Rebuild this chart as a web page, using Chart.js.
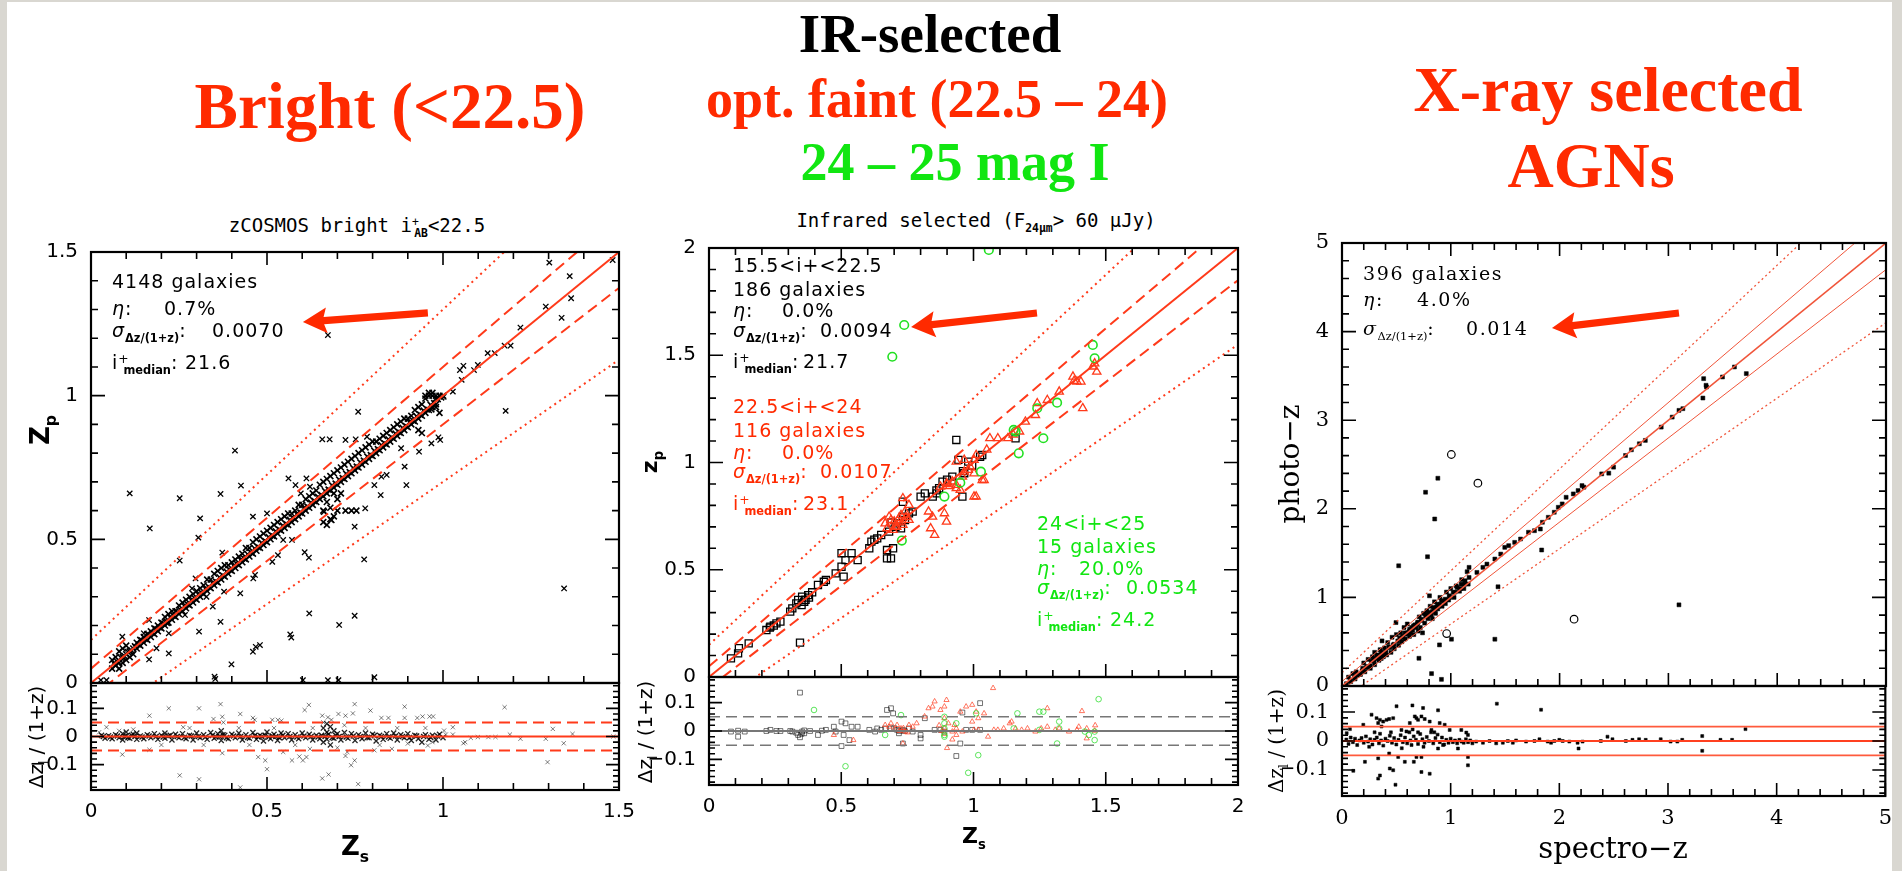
<!DOCTYPE html>
<html><head><meta charset="utf-8">
<script src="https://cdn.jsdelivr.net/npm/chart.js@4/dist/chart.umd.min.js"></script>
<style>
html,body{margin:0;padding:0;background:#fff}
#stage{position:relative;width:1902px;height:871px;overflow:hidden;background:#fff}
.gb{position:absolute;background:#d9d7d1}
.t{position:absolute;white-space:nowrap;line-height:1;color:#000}
.big{font-family:'Liberation Serif';font-weight:bold;transform:translateX(-50%)}
.ann{font-family:'DejaVu Sans';font-size:19px;letter-spacing:1px}
.ser{font-family:'DejaVu Serif';font-size:19px;letter-spacing:1.6px}
.mono{font-family:'DejaVu Sans Mono';font-size:19px;transform:translateX(-50%)}
.t sub,.t sup{line-height:0;letter-spacing:0}
.t sub{font-size:0.6em;vertical-align:-0.45em;font-weight:bold}
.t sup{font-size:0.65em;vertical-align:0.5em}
.g{font-style:italic}
.rot{transform:translate(-50%,-50%) rotate(-90deg)}
.ctr{transform:translate(-50%,-50%)}
.red{color:#ff2a00}.grn{color:#11e611}
</style></head><body>
<div id="stage">
<div class="gb" style="left:0;top:0;width:7px;height:871px"></div>
<div class="gb" style="left:0;top:0;width:1902px;height:2px"></div>
<div class="gb" style="left:1892px;top:0;width:10px;height:871px"></div>

<div class="t big red" style="left:390px;top:74px;font-size:65px">Bright (&lt;22.5)</div>
<div class="t big" style="left:930px;top:6px;font-size:55px">IR-selected</div>
<div class="t big red" style="left:937px;top:72px;font-size:54px">opt. faint (22.5 – 24)</div>
<div class="t big grn" style="left:955px;top:135px;font-size:54px">24 – 25 mag I</div>
<div class="t big red" style="left:1608px;top:58px;font-size:64px">X-ray selected</div>
<div class="t big red" style="left:1591px;top:134px;font-size:64px">AGNs</div>

<div class="t mono" style="left:357px;top:216px">zCOSMOS bright i<sup style="font-size:0.6em">+</sup><sub style="margin-left:-0.4em">AB</sub>&lt;22.5</div>
<div class="t mono" style="left:976px;top:211px">Infrared selected (F<sub>24μm</sub>&gt; 60 μJy)</div>
</div>
<script>
// ---------------- data ----------------
const p1XTicks=[0,0.5,1,1.5], p1YTicks=[0,0.5,1,1.5];
const p2XTicks=[0,0.5,1,1.5,2], p2YTicks=[0,0.5,1,1.5,2];
const p3XTicks=[0,1,2,3,4,5], p3YTicks=[0,1,2,3,4,5];
const resTicks=[-0.1,0,0.1];

// reference lines (zs, zp) : y=x, ±0.05(1+z), ±0.15(1+z)
const p1Diag=[[0,0],[1.5,1.5]], p1DashUp=[[0,0.05],[1.5,1.625]], p1DashLo=[[0,-0.05],[1.5,1.375]], p1DotUp=[[0,0.15],[1.5,1.875]], p1DotLo=[[0,-0.15],[1.5,1.125]];
const p2Diag=[[0,0],[2,2]], p2DashUp=[[0,0.05],[2,2.15]], p2DashLo=[[0,-0.05],[2,1.85]], p2DotUp=[[0,0.15],[2,2.45]], p2DotLo=[[0,-0.15],[2,1.55]];
const p3Diag=[[0,0],[5,5]], p3InUp=[[0,0.05],[5,5.3]], p3InLo=[[0,-0.05],[5,4.7]], p3DotUp=[[0,0.15],[5,5.9]], p3DotLo=[[0,-0.15],[5,4.1]];
const p1ResZero=[[0,0],[1.5,0]], p1ResUp=[[0,0.05],[1.5,0.05]], p1ResLo=[[0,-0.05],[1.5,-0.05]];
const p2ResZero=[[0,0],[2,0]], p2ResUp=[[0,0.05],[2,0.05]], p2ResLo=[[0,-0.05],[2,-0.05]];
const p3ResZero=[[0,0],[5,0]], p3ResUp=[[0,0.05],[5,0.05]], p3ResLo=[[0,-0.05],[5,-0.05]];

// panel 1 : zCOSMOS bright
const brightBand=[[0.06,0.05],[0.06,0.08],[0.07,0.06],[0.07,0.09],[0.08,0.05],[0.08,0.11],[0.08,0.07],[0.09,0.12],[0.09,0.09],[0.09,0.07],[0.10,0.13],[0.10,0.10],[0.10,0.08],[0.11,0.11],[0.11,0.09],[0.12,0.12],[0.12,0.10],[0.13,0.14],[0.13,0.12],[0.14,0.15],[0.14,0.13],[0.15,0.16],[0.15,0.14],[0.16,0.17],[0.16,0.15],[0.17,0.18],[0.17,0.16],[0.18,0.19],[0.18,0.17],[0.19,0.20],[0.19,0.18],[0.20,0.21],[0.20,0.19],[0.21,0.23],[0.21,0.20],[0.22,0.24],[0.22,0.21],[0.23,0.25],[0.23,0.22],[0.24,0.25],[0.24,0.23],[0.25,0.27],[0.25,0.24],[0.26,0.28],[0.26,0.25],[0.27,0.29],[0.27,0.26],[0.28,0.30],[0.28,0.27],[0.29,0.31],[0.29,0.28],[0.30,0.32],[0.30,0.29],[0.31,0.33],[0.31,0.30],[0.32,0.34],[0.32,0.31],[0.33,0.36],[0.33,0.32],[0.34,0.36],[0.34,0.33],[0.35,0.38],[0.35,0.34],[0.36,0.39],[0.36,0.35],[0.37,0.40],[0.37,0.36],[0.38,0.41],[0.38,0.37],[0.39,0.41],[0.39,0.38],[0.40,0.42],[0.40,0.39],[0.41,0.43],[0.41,0.40],[0.42,0.44],[0.42,0.41],[0.43,0.45],[0.43,0.42],[0.44,0.47],[0.44,0.43],[0.45,0.47],[0.45,0.44],[0.46,0.49],[0.46,0.45],[0.47,0.50],[0.47,0.46],[0.48,0.51],[0.48,0.47],[0.49,0.52],[0.49,0.48],[0.50,0.53],[0.50,0.49],[0.51,0.54],[0.51,0.50],[0.52,0.55],[0.52,0.51],[0.53,0.56],[0.53,0.52],[0.54,0.57],[0.54,0.53],[0.55,0.58],[0.55,0.54],[0.56,0.59],[0.56,0.55],[0.57,0.59],[0.57,0.56],[0.58,0.60],[0.58,0.57],[0.59,0.62],[0.59,0.58],[0.60,0.62],[0.60,0.59],[0.61,0.64],[0.61,0.60],[0.62,0.65],[0.62,0.61],[0.63,0.66],[0.63,0.62],[0.64,0.67],[0.64,0.63],[0.65,0.69],[0.65,0.64],[0.66,0.70],[0.66,0.65],[0.67,0.71],[0.67,0.66],[0.68,0.72],[0.68,0.67],[0.69,0.73],[0.69,0.68],[0.70,0.74],[0.70,0.69],[0.71,0.75],[0.71,0.70],[0.72,0.76],[0.72,0.71],[0.73,0.77],[0.73,0.72],[0.74,0.78],[0.74,0.73],[0.75,0.79],[0.75,0.74],[0.76,0.80],[0.76,0.75],[0.77,0.81],[0.77,0.76],[0.78,0.82],[0.78,0.77],[0.79,0.83],[0.79,0.78],[0.80,0.84],[0.80,0.79],[0.81,0.84],[0.81,0.80],[0.82,0.85],[0.82,0.81],[0.83,0.86],[0.83,0.82],[0.84,0.87],[0.84,0.83],[0.85,0.88],[0.85,0.84],[0.86,0.89],[0.86,0.85],[0.87,0.90],[0.87,0.86],[0.88,0.91],[0.88,0.87],[0.89,0.92],[0.89,0.88],[0.90,0.92],[0.90,0.89],[0.91,0.93],[0.91,0.90],[0.92,0.95],[0.92,0.91],[0.93,0.96],[0.93,0.92],[0.94,0.97],[0.94,0.93],[0.95,0.99],[0.95,0.94],[0.96,1.00],[0.96,0.95],[0.97,1.00],[0.97,0.96],[0.98,0.99],[0.98,0.97],[0.99,1.00],[1.00,1.00],[0.66,0.56],[0.67,0.55],[0.68,0.57],[0.66,0.60],[0.69,0.58],[0.70,0.60],[0.68,0.61],[0.67,0.63],[0.70,0.64],[0.69,0.66],[0.71,0.66],[0.662,0.596],[0.683,0.567],[0.723,0.6],[0.74,0.6],[0.754,0.6],[0.93,0.88],[0.94,0.87],[0.967,0.952],[0.99,0.94],[0.98,0.96],[0.95,1.0],[0.96,1.01],[0.97,1.01],[0.98,1.0]];
const brightCore=[[0.065,0.068],[0.075,0.073],[0.085,0.088],[0.095,0.094],[0.105,0.108],[0.115,0.113],[0.125,0.128],[0.135,0.134],[0.145,0.148],[0.155,0.153],[0.165,0.168],[0.175,0.174],[0.185,0.188],[0.195,0.193],[0.205,0.208],[0.215,0.214],[0.225,0.228],[0.235,0.233],[0.245,0.248],[0.255,0.254],[0.265,0.268],[0.275,0.273],[0.285,0.288],[0.295,0.294],[0.305,0.308],[0.315,0.313],[0.325,0.328],[0.335,0.334],[0.345,0.348],[0.355,0.353],[0.365,0.368],[0.375,0.374],[0.385,0.388],[0.395,0.393],[0.405,0.408],[0.415,0.414],[0.425,0.428],[0.435,0.433],[0.445,0.448],[0.455,0.454],[0.465,0.468],[0.475,0.473],[0.485,0.488],[0.495,0.494],[0.505,0.508],[0.515,0.513],[0.525,0.528],[0.535,0.534],[0.545,0.548],[0.555,0.553],[0.565,0.568],[0.575,0.574],[0.585,0.588],[0.595,0.593],[0.605,0.608],[0.615,0.614],[0.625,0.628],[0.635,0.633],[0.645,0.648],[0.655,0.654],[0.665,0.668],[0.675,0.673],[0.685,0.688],[0.695,0.694],[0.705,0.708],[0.715,0.713],[0.725,0.728],[0.735,0.734],[0.745,0.748],[0.755,0.753],[0.765,0.768],[0.775,0.774],[0.785,0.788],[0.795,0.793],[0.805,0.808],[0.815,0.814],[0.825,0.828],[0.835,0.833],[0.845,0.848],[0.855,0.854],[0.865,0.868],[0.875,0.873],[0.885,0.888],[0.895,0.894],[0.905,0.908],[0.915,0.913],[0.925,0.928],[0.935,0.934],[0.945,0.948],[0.955,0.953],[0.965,0.968],[0.975,0.974],[0.985,0.988],[0.995,0.994]];
const brightOut=[[0.673,1.211],[1.302,1.463],[1.36,1.416],[1.364,1.339],[1.292,1.31],[1.337,1.271],[1.22,1.237],[1.482,1.472],[1.175,1.174],[1.192,1.174],[1.147,1.148],[1.127,1.148],[1.058,1.104],[1.048,1.089],[1.099,1.107],[1.088,1.089],[1.053,1.055],[1.028,1.014],[1.002,0.996],[1.178,0.947],[0.759,0.944],[0.409,0.809],[0.657,0.848],[0.678,0.848],[0.723,0.846],[0.752,0.848],[0.784,0.857],[0.932,0.805],[0.881,0.817],[0.891,0.753],[0.896,0.689],[0.825,0.718],[0.84,0.724],[0.805,0.689],[0.823,0.654],[0.967,0.834],[0.987,0.855],[0.992,0.846],[0.11,0.66],[0.252,0.643],[0.368,0.658],[0.426,0.687],[0.31,0.573],[0.167,0.538],[0.305,0.506],[0.252,0.426],[0.373,0.454],[0.46,0.579],[0.5,0.59],[0.561,0.712],[0.581,0.689],[0.612,0.712],[0.596,0.66],[0.622,0.683],[0.607,0.455],[0.619,0.436],[0.515,0.422],[0.531,0.445],[0.546,0.498],[0.571,0.498],[0.749,0.544],[0.779,0.608],[0.776,0.43],[0.466,0.376],[0.461,0.364],[0.424,0.312],[0.378,0.318],[0.346,0.266],[0.307,0.179],[0.368,0.213],[0.328,0.3],[0.297,0.364],[0.287,0.329],[0.267,0.237],[0.216,0.208],[0.221,0.173],[0.165,0.082],[0.186,0.121],[0.089,0.161],[0.165,0.219],[0.125,0.126],[0.15,0.173],[0.62,0.242],[0.749,0.234],[0.705,0.202],[0.566,0.169],[0.569,0.158],[0.468,0.126],[0.48,0.132],[0.46,0.109],[0.399,0.065],[0.351,0.022],[0.353,0.014],[0.602,0.01],[0.673,0.01],[0.703,0.01],[0.805,0.02],[1.344,0.329],[0.221,0.103],[0.028,0.01],[0.044,0.01]];
const brightResBand=[[0.03,0.004],[0.04,-0.006],[0.05,0.003],[0.06,-0.008],[0.07,0.006],[0.08,-0.004],[0.09,0.01],[0.09,-0.012],[0.10,0.002],[0.10,0.016],[0.11,-0.006],[0.12,0.008],[0.13,-0.01],[0.13,0.012],[0.14,0.002],[0.15,-0.008],[0.16,0.006],[0.17,-0.004],[0.18,0.01],[0.19,-0.01],[0.2,0.004],[0.21,-0.006],[0.21,0.012],[0.22,0.002],[0.23,-0.012],[0.24,0.008],[0.25,-0.004],[0.26,0.01],[0.27,-0.008],[0.28,0.004],[0.29,-0.012],[0.3,0.012],[0.31,-0.004],[0.32,0.006],[0.33,-0.01],[0.34,0.014],[0.35,-0.006],[0.36,0.01],[0.37,-0.014],[0.37,0.02],[0.38,0.004],[0.39,-0.008],[0.4,0.008],[0.41,-0.004],[0.42,0.012],[0.43,-0.012],[0.44,0.006],[0.45,-0.006],[0.46,0.014],[0.47,-0.01],[0.48,0.004],[0.49,-0.016],[0.5,0.016],[0.51,-0.008],[0.52,0.008],[0.53,-0.014],[0.54,0.012],[0.55,-0.004],[0.56,0.01],[0.57,-0.012],[0.58,0.006],[0.59,-0.008],[0.6,0.012],[0.61,-0.004],[0.62,0.008],[0.63,-0.012],[0.64,0.004],[0.65,-0.008],[0.66,0.03],[0.66,-0.02],[0.67,0.045],[0.67,0.015],[0.67,-0.01],[0.68,0.035],[0.68,-0.03],[0.69,0.02],[0.69,-0.006],[0.7,0.01],[0.71,-0.012],[0.72,0.014],[0.73,-0.006],[0.74,0.01],[0.75,-0.014],[0.76,0.006],[0.77,-0.008],[0.78,0.012],[0.79,-0.004],[0.8,0.008],[0.81,-0.016],[0.82,0.004],[0.83,-0.01],[0.84,0.01],[0.85,-0.006],[0.86,0.012],[0.87,-0.012],[0.88,0.006],[0.89,-0.004],[0.9,0.01],[0.91,-0.014],[0.92,0.004],[0.93,-0.008],[0.94,-0.02],[0.95,0.006],[0.96,-0.01],[0.97,0.004],[0.98,-0.012],[0.99,0.008],[1.0,-0.004]];
const brightResCore=[[0.035,0.0],[0.055,-0.002],[0.075,0.002],[0.095,0.0],[0.105,-0.004],[0.115,0.004],[0.125,0.0],[0.145,-0.002],[0.165,0.002],[0.185,0.0],[0.205,-0.002],[0.225,0.004],[0.245,0.0],[0.265,-0.003],[0.285,0.002],[0.305,0.0],[0.325,-0.002],[0.345,0.004],[0.355,-0.002],[0.365,0.0],[0.375,0.006],[0.385,-0.004],[0.405,0.002],[0.425,0.0],[0.445,-0.003],[0.465,0.003],[0.475,-0.002],[0.485,0.0],[0.495,0.004],[0.505,-0.002],[0.515,0.002],[0.525,0.0],[0.535,-0.004],[0.545,0.004],[0.565,0.0],[0.585,-0.002],[0.605,0.002],[0.625,0.0],[0.645,-0.002],[0.655,0.004],[0.665,0.0],[0.675,0.008],[0.685,-0.004],[0.695,0.004],[0.705,0.0],[0.725,-0.002],[0.745,0.002],[0.765,0.0],[0.785,-0.003],[0.805,0.003],[0.825,0.0],[0.845,-0.002],[0.865,0.002],[0.885,0.0],[0.905,-0.004],[0.925,0.002],[0.945,0.0],[0.965,-0.003],[0.985,0.002]];
const brightResOut=[[0.166,0.074],[0.221,0.1],[0.307,0.1],[0.262,0.033],[0.348,0.062],[0.373,0.07],[0.376,0.05],[0.368,0.115],[0.424,0.08],[0.46,0.066],[0.465,0.059],[0.515,0.059],[0.531,0.059],[0.541,0.056],[0.607,0.094],[0.619,0.112],[0.657,0.074],[0.673,0.068],[0.683,0.059],[0.703,0.08],[0.723,0.074],[0.744,0.082],[0.749,0.115],[0.794,0.092],[0.825,0.066],[0.845,0.066],[0.891,0.106],[0.891,0.066],[0.927,0.066],[0.942,0.071],[0.962,0.071],[0.972,0.071],[1.175,0.104],[1.19,0.007],[1.22,-0.008],[1.292,-0.008],[1.343,-0.024],[1.312,0.027],[1.368,0.009],[1.028,0.007],[1.058,-0.024],[1.063,-0.02],[1.129,-0.002],[1.099,-0.002],[1.149,-0.002],[1.079,-0.005],[1.003,0.021],[1.008,0.007],[1.028,0.033],[1.297,-0.091],[1.484,0],[0.089,-0.064],[0.166,-0.047],[0.252,-0.138],[0.307,-0.152],[0.373,-0.059],[0.424,-0.181],[0.475,-0.073],[0.495,-0.085],[0.5,-0.116],[0.571,-0.085],[0.592,-0.071],[0.612,-0.073],[0.602,-0.085],[0.657,-0.149],[0.675,-0.135],[0.723,-0.069],[0.728,-0.055],[0.759,-0.169],[0.749,-0.085],[0.739,-0.102],[0.805,-0.049],[0.855,-0.044],[0.957,-0.032],[0.546,-0.055],[0.622,-0.044],[0.023,0.015],[0.044,0.033],[0.08,0.02],[0.12,0.025],[0.2,-0.03],[0.28,0.03],[0.32,-0.03],[0.42,0.03],[0.45,-0.03],[0.52,0.03],[0.58,-0.03],[0.63,0.03],[0.66,0.05],[0.7,-0.04],[0.72,0.04],[0.78,0.03],[0.82,-0.03],[0.87,0.03],[0.9,-0.025],[0.95,0.03],[0.97,-0.02]];

// panel 2 : infrared selected
const irBright=[[0.083,0.087],[0.11,0.11],[0.113,0.134],[0.15,0.157],[0.217,0.219],[0.255,0.25],[0.232,0.235],[0.27,0.258],[0.315,0.32],[0.33,0.343],[0.352,0.375],[0.375,0.382],[0.337,0.359],[0.36,0.351],[0.307,0.305],[0.344,0.16],[0.412,0.429],[0.434,0.444],[0.442,0.452],[0.479,0.483],[0.501,0.514],[0.501,0.577],[0.539,0.577],[0.516,0.545],[0.509,0.468],[0.562,0.545],[0.606,0.6],[0.614,0.631],[0.636,0.646],[0.651,0.662],[0.681,0.678],[0.673,0.592],[0.673,0.553],[0.688,0.553],[0.696,0.6],[0.711,0.716],[0.733,0.747],[0.726,0.693],[0.756,0.763],[0.77,0.771],[0.741,0.732],[0.8,0.841],[0.816,0.856],[0.846,0.841],[0.861,0.856],[0.733,0.817],[0.883,0.911],[0.92,0.934],[0.935,1.105],[0.943,1.012],[0.965,0.95],[0.958,0.841],[0.98,1.004],[1.025,1.027],[1.033,1.035],[1.159,1.113],[0.378,0.37],[0.365,0.36],[0.39,0.395],[0.23,0.23],[0.245,0.24],[0.35,0.335],[0.625,0.64],[0.69,0.72],[0.705,0.7],[0.86,0.87],[0.87,0.88],[0.9,0.92],[0.96,0.96],[0.995,0.985]];
const irFaint=[[0.666,0.716],[0.688,0.732],[0.703,0.701],[0.718,0.74],[0.733,0.709],[0.696,0.685],[0.673,0.693],[0.726,0.755],[0.741,0.771],[0.756,0.732],[0.681,0.747],[0.733,0.833],[0.756,0.802],[0.83,0.771],[0.845,0.747],[0.838,0.693],[0.853,0.662],[0.89,0.763],[0.898,0.724],[0.875,0.887],[0.898,0.903],[0.92,0.911],[0.935,0.895],[0.958,0.934],[0.965,0.957],[0.987,0.981],[1.002,1.012],[1.01,1.035],[0.98,0.965],[0.935,1.004],[0.965,1.012],[1.002,0.841],[1.01,0.841],[1.033,0.918],[1.04,0.918],[0.935,0.88],[0.95,0.872],[1.062,1.113],[1.092,1.113],[1.13,1.113],[1.174,1.144],[1.196,1.19],[1.234,1.221],[1.241,1.276],[1.279,1.291],[1.324,1.33],[1.376,1.4],[1.391,1.377],[1.406,1.377],[1.458,1.462],[1.466,1.423],[1.451,1.447],[1.413,1.253],[1.002,0.949],[0.71,0.7],[0.72,0.72],[0.7,0.725],[0.745,0.745],[0.9,0.9],[0.91,0.89],[1.05,1.06],[1.15,1.13],[1.38,1.38]];
const irVeryFaint=[[1.058,1.991],[0.738,1.641],[0.693,1.493],[1.451,1.548],[1.458,1.486],[1.316,1.279],[1.241,1.253],[1.152,1.152],[1.159,1.144],[1.264,1.113],[1.171,1.043],[1.028,0.957],[0.95,0.906],[0.89,0.841],[0.729,0.636]];
const irBrightRes=[[0.083,-0.002],[0.11,0.001],[0.11,-0.02],[0.135,-0.002],[0.217,0],[0.232,0.004],[0.255,0],[0.27,0],[0.307,0],[0.315,-0.002],[0.33,-0.006],[0.337,-0.014],[0.344,-0.022],[0.352,-0.002],[0.36,-0.008],[0.344,0.135],[0.382,0],[0.412,-0.014],[0.427,0.001],[0.442,0.004],[0.472,0.015],[0.479,-0.002],[0.501,0.033],[0.516,0.027],[0.509,-0.014],[0.501,-0.053],[0.531,-0.032],[0.539,0.015],[0.562,0.015],[0.606,0.004],[0.628,-0.002],[0.636,0.009],[0.651,0.004],[0.666,0.009],[0.673,0.074],[0.688,0.08],[0.696,0.062],[0.688,0.009],[0.711,0.004],[0.718,-0.008],[0.733,-0.044],[0.733,0.004],[0.756,0.009],[0.77,-0.002],[0.8,-0.014],[0.8,-0.026],[0.816,0.045],[0.853,0.004],[0.875,0.004],[0.89,-0.002],[0.958,0.065],[0.972,0.004],[0.995,0.004],[1.025,0.098],[1.025,0.004],[0.935,-0.088],[0.95,-0.044],[0.35,-0.01],[0.36,0.002],[0.7,0.01],[0.72,0.0],[0.74,0.0]];
const irFaintRes=[[0.472,-0.014],[0.546,-0.032],[0.666,0.021],[0.681,0.015],[0.688,0.027],[0.711,0.021],[0.726,0.009],[0.733,-0.044],[0.741,-0.002],[0.756,0.021],[0.77,0.015],[0.785,0.027],[0.815,0.051],[0.83,0.08],[0.845,0.086],[0.853,0.104],[0.875,0.074],[0.89,0.086],[0.89,0.045],[0.898,0.109],[0.905,0.027],[0.92,-0.002],[0.928,0.021],[0.935,0.009],[0.935,-0.014],[0.95,0.068],[0.958,-0.002],[0.972,0.086],[0.995,0.092],[0.995,0.033],[1.002,0.004],[1.01,0.068],[1.018,0.004],[1.018,0.045],[1.04,0.062],[1.055,-0.02],[1.074,0.151],[1.077,0.004],[1.092,0.004],[1.114,0.009],[1.137,0.027],[1.144,0.033],[1.159,0.009],[1.182,0.004],[1.204,0.009],[1.234,-0.002],[1.256,0.009],[1.279,0.015],[1.279,0.08],[1.309,0.004],[1.324,0.009],[1.361,-0.002],[1.391,0.004],[1.398,0.015],[1.41,0.07],[1.428,0.009],[1.428,-0.026],[1.458,0.001],[1.46,0.02],[0.9,-0.06],[0.92,-0.03],[0.87,0.02],[0.88,0.0],[0.89,-0.01],[0.89,0.01],[0.70,0.005],[0.72,0.0],[0.735,0.01],[0.75,-0.005]];
const irVeryFaintRes=[[0.397,0.074],[0.516,-0.124],[0.726,0.056],[0.89,0.05],[0.89,0.027],[0.89,0.009],[0.89,-0.014],[0.89,-0.02],[0.935,0.027],[1.01,0.062],[1.018,-0.085],[0.98,-0.147],[1.166,0.062],[1.249,0.068],[1.264,0.068],[1.324,0.033],[1.324,0.009],[1.316,-0.044],[1.421,-0.002],[1.436,-0.014],[1.458,-0.002],[1.458,-0.032],[1.473,0.112],[0.666,-0.014],[1.249,0.004],[1.152,0.009]];

// panel 3 : X-ray selected AGNs
const xrayLine=[[0.041,0.026],[0.077,0.057],[0.114,0.094],[0.15,0.132],[0.186,0.17],[0.222,0.207],[0.259,0.226],[0.295,0.283],[0.331,0.32],[0.368,0.358],[0.404,0.396],[0.44,0.434],[0.477,0.471],[0.513,0.509],[0.549,0.547],[0.586,0.584],[0.622,0.641],[0.658,0.679],[0.695,0.716],[0.731,0.754],[0.767,0.811],[0.804,0.83],[0.84,0.886],[0.876,0.924],[0.913,0.962],[0.949,0.98],[0.986,1.018],[1.022,1.056],[1.058,1.112],[1.095,1.15],[1.131,1.188],[1.168,1.225],[1.168,1.339],[1.24,1.282],[1.295,1.339],[1.332,1.376],[1.405,1.433],[1.459,1.489],[1.496,1.565],[1.532,1.584],[1.587,1.621],[1.641,1.659],[1.714,1.735],[1.769,1.753],[1.823,1.772],[1.842,1.848],[1.896,1.904],[1.951,1.961],[1.988,2.017],[2.024,2.055],[2.06,2.13],[2.126,2.168],[2.17,2.206],[2.206,2.262],[2.224,2.244],[2.387,2.394],[2.452,2.402],[2.496,2.47],[2.606,2.602],[2.66,2.666],[2.733,2.734],[2.788,2.772],[2.934,2.922],[3.035,3.035],[3.097,3.111],[3.133,3.13],[3.324,3.469],[3.346,3.394],[3.317,3.25],[3.35,3.375],[3.497,3.488],[3.607,3.601],[3.716,3.526]];
const xrayNear=[[0.06,0.1],[0.08,0.05],[0.1,0.14],[0.12,0.08],[0.13,0.16],[0.17,0.13],[0.2,0.26],[0.21,0.16],[0.24,0.3],[0.26,0.2],[0.28,0.33],[0.3,0.24],[0.3,0.38],[0.32,0.35],[0.34,0.29],[0.35,0.41],[0.36,0.31],[0.38,0.33],[0.39,0.43],[0.41,0.35],[0.42,0.49],[0.45,0.38],[0.46,0.55],[0.48,0.42],[0.5,0.58],[0.52,0.46],[0.54,0.6],[0.55,0.5],[0.57,0.66],[0.58,0.53],[0.6,0.7],[0.62,0.56],[0.63,0.6],[0.65,0.63],[0.66,0.58],[0.68,0.66],[0.7,0.62],[0.71,0.78],[0.72,0.66],[0.74,0.6],[0.75,0.82],[0.76,0.71],[0.78,0.85],[0.79,0.76],[0.81,0.9],[0.82,0.8],[0.83,0.76],[0.85,0.95],[0.86,0.82],[0.88,0.87],[0.9,1.0],[0.92,0.9],[0.95,0.93],[0.96,1.06],[0.98,0.97],[1.0,1.1],[1.03,1.0],[1.05,1.13],[1.08,1.07],[1.1,1.2],[1.12,1.1],[1.15,1.29],[1.16,1.15],[0.35,0.35],[0.37,0.36],[0.36,0.38],[0.33,0.33],[0.31,0.31],[0.58,0.6],[0.6,0.6],[0.62,0.62],[0.64,0.66],[0.66,0.67],[0.69,0.7],[0.7,0.72],[0.77,0.79],[0.8,0.81],[0.83,0.84],[0.87,0.89],[0.9,0.92],[0.14,0.12],[0.19,0.2],[0.23,0.22],[0.27,0.28],[0.29,0.3],[0.34,0.34],[0.39,0.38],[0.43,0.44],[0.47,0.46],[0.53,0.54],[0.56,0.56],[0.61,0.6],[0.67,0.69],[0.73,0.74],[0.78,0.78],[0.85,0.86],[0.89,0.9],[0.94,0.96],[0.99,1.0],[1.04,1.06],[1.09,1.1],[1.13,1.15]];
const xrayOut=[[0.881,2.345],[0.768,2.187],[0.852,1.885],[0.786,1.459],[0.521,1.357],[3.097,0.916],[1.405,0.528],[1.434,1.12],[1.835,1.535],[0.823,0.14],[0.914,0.075],[0.707,0.313],[1.006,0.528],[0.896,0.464],[0.496,0.716],[0.368,0.509],[0.804,1.018]];
const xrayOpen=[[1.005,2.613],[1.249,2.289],[2.133,0.754],[0.962,0.592]];
const xrayRes=[[0.043,0.027],[0.073,0.041],[0.196,0.056],[0.272,0.091],[0.318,0.079],[0.333,0.062],[0.349,0.073],[0.364,0.05],[0.379,0.067],[0.41,0.073],[0.434,0.076],[0.471,0.079],[0.502,0.12],[0.547,0.038],[0.593,0.033],[0.624,0.062],[0.648,0.123],[0.67,0.085],[0.685,0.079],[0.7,0.073],[0.731,0.085],[0.746,0.114],[0.761,0.076],[0.807,0.067],[0.823,0.038],[0.884,0.106],[0.899,0.062],[0.945,0.056],[0.991,0.038],[1.098,0.038],[1.144,0.029],[1.159,0.021],[1.425,0.129],[1.832,0.108],[2.443,0.015],[3.713,0.041],[3.315,0.017],[0.104,-0.103],[0.211,-0.072],[0.333,-0.13],[0.349,-0.119],[0.333,-0.06],[0.434,-0.043],[0.44,-0.095],[0.471,-0.101],[0.492,-0.151],[0.517,-0.055],[0.578,-0.072],[0.661,-0.072],[0.685,-0.055],[0.731,-0.107],[0.731,-0.055],[0.807,-0.113],[0.884,-0.026],[1.067,-0.026],[1.159,-0.055],[1.159,-0.084],[3.315,-0.034],[2.177,-0.026],[0.93,-0.014]];
const xrayResBand=[[0.04,0.005],[0.06,-0.01],[0.08,0.012],[0.1,-0.004],[0.12,0.008],[0.14,-0.014],[0.16,0.002],[0.18,0.01],[0.2,-0.006],[0.22,0.016],[0.24,-0.002],[0.26,0.006],[0.28,-0.012],[0.3,0.004],[0.32,0.012],[0.34,-0.008],[0.35,0.025],[0.36,0.002],[0.38,-0.016],[0.4,0.008],[0.42,0.0],[0.44,0.018],[0.46,-0.006],[0.48,0.01],[0.5,-0.012],[0.52,0.004],[0.54,0.02],[0.56,-0.004],[0.58,0.012],[0.6,-0.008],[0.62,0.03],[0.63,0.002],[0.64,-0.014],[0.66,0.016],[0.68,0.004],[0.7,-0.01],[0.72,0.024],[0.74,0.006],[0.76,-0.006],[0.78,0.014],[0.8,0.0],[0.82,0.03],[0.84,-0.008],[0.86,0.01],[0.88,0.022],[0.9,-0.004],[0.92,0.012],[0.94,-0.012],[0.96,0.004],[0.98,-0.006],[1.0,0.008],[1.02,-0.004],[1.04,0.002],[1.06,-0.008],[1.08,0.004],[1.1,-0.002],[1.12,-0.006],[1.14,0.006],[1.16,-0.004],[1.18,0.002],[1.2,-0.008],[0.3,0.03],[0.25,-0.02],[0.45,0.03],[0.55,-0.025],[0.65,0.04],[0.7,0.03],[0.75,-0.02],[0.85,0.03],[1.235,-0.002],[1.297,-0.006],[1.358,0.0],[1.419,-0.008],[1.48,-0.006],[1.526,0.0],[1.572,-0.006],[1.602,0.002],[1.694,-0.002],[1.771,0.0],[1.817,0.006],[1.893,-0.002],[1.924,-0.006],[1.954,0.0],[2.0,0.004],[2.031,0.0],[2.092,-0.002],[2.168,-0.006],[2.214,-0.002],[2.382,0.0],[2.489,0.006],[2.612,0.0],[2.673,0.004],[2.734,0.006],[2.795,0.004],[2.933,0.006],[3.024,-0.002],[3.086,-0.002],[3.131,0.004],[3.483,0.004],[3.59,0.004]];

// ---------------- drawing ----------------
const RED='#ff3a1a', RED3='#f0553a', ARROW='#ff2a00';
function fmt(v){ if(Math.abs(v)<1e-9) return '0'; const s=String(Math.round(Math.abs(v)*100)/100); return (v<0?'−':'')+s; }

const framePlugin={id:'frame',afterDatasetsDraw(chart,args,o){
  const {ctx,chartArea:a}=chart, xs=chart.scales.x, ys=chart.scales.y;
  ctx.save(); ctx.strokeStyle='#000'; ctx.lineWidth=2.2;
  ctx.strokeRect(a.left,a.top,a.right-a.left,a.bottom-a.top);
  ctx.lineWidth=1.6; ctx.beginPath();
  const steps=(lo,hi,st)=>{const r=[];for(let k=Math.ceil(lo/st-1e-6);k*st<=hi+1e-9;k++) r.push(k*st);return r;};
  const maj=(v,M)=>Math.abs(v/M-Math.round(v/M))<1e-6;
  for(const v of steps(xs.min,xs.max,o.xMinor)){const p=xs.getPixelForValue(v);const L=maj(v,o.xMajor)?o.xMajLen:o.xMinLen;
    if(o.bottom){ctx.moveTo(p,a.bottom);ctx.lineTo(p,a.bottom-L);} if(o.top){ctx.moveTo(p,a.top);ctx.lineTo(p,a.top+L);}}
  for(const v of steps(ys.min,ys.max,o.yMinor)){const p=ys.getPixelForValue(v);const L=maj(v,o.yMajor)?o.yMajLen:o.yMinLen;
    ctx.moveTo(a.left,p);ctx.lineTo(a.left+L,p);ctx.moveTo(a.right,p);ctx.lineTo(a.right-L,p);}
  ctx.stroke(); ctx.restore();
}};
const arrowPlugin={id:'arrow',afterDatasetsDraw(chart,args,o){
  if(!o||!o.from) return;
  const xs=chart.scales.x, ys=chart.scales.y, ctx=chart.ctx;
  const x1=xs.getPixelForValue(o.from[0]), y1=ys.getPixelForValue(o.from[1]);
  const x2=xs.getPixelForValue(o.to[0]), y2=ys.getPixelForValue(o.to[1]);
  const ang=Math.atan2(y2-y1,x2-x1), len=Math.hypot(x2-x1,y2-y1);
  const hl=24, hw=13, sw=3.6;
  ctx.save(); ctx.translate(x1,y1); ctx.rotate(ang); ctx.fillStyle=o.color;
  ctx.beginPath(); ctx.moveTo(0,-sw); ctx.lineTo(len-hl+3,-sw); ctx.lineTo(len-hl,-hw); ctx.lineTo(len,0);
  ctx.lineTo(len-hl,hw); ctx.lineTo(len-hl+3,sw); ctx.lineTo(0,sw); ctx.closePath(); ctx.fill(); ctx.restore();
}};

const pts=(arr,style,r,color,fill,bw)=>({data:arr,showLine:false,pointStyle:style,pointRadius:r,pointBorderColor:color,pointBackgroundColor:fill,pointBorderWidth:bw,borderColor:color,backgroundColor:fill});
const ln=(arr,color,w,dash)=>({data:arr,showLine:true,borderColor:color,borderWidth:w,borderDash:dash||[],pointRadius:0,fill:false});

function makeChart(area,xr,yr,xt,yt,showX,font,datasets,frame,arrow){
  const cv=document.createElement('canvas');
  cv.width=1902; cv.height=871; cv.style.cssText='position:absolute;left:0;top:0;width:1902px;height:871px';
  document.getElementById('stage').appendChild(cv);
  const yW=60, xH=showX?44:0;
  return new Chart(cv,{type:'scatter',data:{datasets},plugins:[framePlugin,arrowPlugin],
    options:{responsive:false,animation:false,devicePixelRatio:1,events:[],
      layout:{autoPadding:false,padding:{left:area.L-yW,top:area.T,right:1902-area.R,bottom:871-area.B-xH}},
      plugins:{legend:{display:false},tooltip:{enabled:false},frame:frame,arrow:arrow||false},
      scales:{
        x:{type:'linear',min:xr[0],max:xr[1],grid:{display:false,drawTicks:false},border:{display:false},
           afterBuildTicks:s=>{s.ticks=xt.map(v=>({value:v}));},afterFit:s=>{s.height=xH;},
           ticks:{display:showX,padding:10,font:font,color:'#000',maxRotation:0,autoSkip:false,callback:v=>fmt(v)}},
        y:{type:'linear',min:yr[0],max:yr[1],grid:{display:false,drawTicks:false},border:{display:false},
           afterBuildTicks:s=>{s.ticks=yt.map(v=>({value:v}));},afterFit:s=>{s.width=yW;},
           ticks:{padding:13,font:font,color:'#000',autoSkip:false,callback:v=>fmt(v)}}
      }}});
}
const fSans={family:'DejaVu Sans',size:20}, fSerif={family:'DejaVu Serif',size:21};
const fMain=(xM,xm,yM,ym)=>({xMajor:xM,xMinor:xm,yMajor:yM,yMinor:ym,xMajLen:13,xMinLen:7,yMajLen:14,yMinLen:7,top:true,bottom:true});
const fRes=(xM,xm)=>({xMajor:xM,xMinor:xm,yMajor:0.1,yMinor:0.02,xMajLen:13,xMinLen:7,yMajLen:13,yMinLen:6,top:false,bottom:true});

// Panel 1
makeChart({L:91,T:252,R:619,B:683},[0,1.5],[0,1.5],p1XTicks,p1YTicks,false,fSans,[
  ln(p1Diag,RED,2),ln(p1DashUp,RED,2,[11,6]),ln(p1DashLo,RED,2,[11,6]),ln(p1DotUp,RED,2,[2,4]),ln(p1DotLo,RED,2,[2,4]),
  pts(brightOut,'crossRot',3.8,'#000','#000',1.3),pts(brightBand,'crossRot',4.2,'#000','#000',1.6),pts(brightCore,'crossRot',4.2,'#000','#000',1.6)
],fMain(0.5,0.1,0.5,0.1),{from:[0.957,1.288],to:[0.602,1.256],color:ARROW});
makeChart({L:91,T:683,R:619,B:790},[0,1.5],[-0.19,0.19],p1XTicks,resTicks,true,fSans,[
  ln(p1ResZero,RED,2),ln(p1ResUp,RED,2,[11,6]),ln(p1ResLo,RED,2,[11,6]),
  pts(brightResOut,'crossRot',3,'rgba(0,0,0,0.5)','rgba(0,0,0,0.5)',1),pts(brightResBand,'crossRot',3.6,'rgba(0,0,0,0.85)','rgba(0,0,0,0.85)',1.3),pts(brightResCore,'crossRot',3.6,'rgba(0,0,0,0.9)','rgba(0,0,0,0.9)',1.4)
],fRes(0.5,0.1));

// Panel 2
makeChart({L:709,T:248,R:1238,B:677},[0,2],[0,2],p2XTicks,p2YTicks,false,fSans,[
  ln(p2Diag,RED,2),ln(p2DashUp,RED,2,[11,6]),ln(p2DashLo,RED,2,[11,6]),ln(p2DotUp,RED,2,[2,4]),ln(p2DotLo,RED,2,[2,4]),
  pts(irVeryFaint,'circle',4.3,'#22e022','transparent',1.6),pts(irFaint,'triangle',4.8,RED,'transparent',1.3),pts(irBright,'rect',5,'#000','transparent',1.3)
],fMain(0.5,0.1,0.5,0.1),{from:[1.24,1.697],to:[0.764,1.632],color:ARROW});
makeChart({L:709,T:677,R:1238,B:785},[0,2],[-0.19,0.19],p2XTicks,resTicks,true,fSans,[
  ln(p2ResZero,'#777',2),ln(p2ResUp,'#777',1.6,[11,6]),ln(p2ResLo,'#777',1.6,[11,6]),
  pts(irVeryFaintRes,'circle',2.8,'rgba(40,220,40,0.75)','transparent',1),pts(irFaintRes,'triangle',3,'rgba(255,60,30,0.7)','transparent',1),pts(irBrightRes,'rect',3.4,'rgba(0,0,0,0.55)','transparent',1)
],fRes(0.5,0.1));

// Panel 3
makeChart({L:1342,T:243,R:1886,B:686},[0,5],[0,5],p3XTicks,p3YTicks,false,fSerif,[
  ln(p3Diag,RED3,1.6),ln(p3InUp,RED3,1),ln(p3InLo,RED3,1),ln(p3DotUp,RED3,1.3,[2,3]),ln(p3DotLo,RED3,1.3,[2,3]),
  pts(xrayOpen,'circle',3.8,'#000','transparent',1.2),pts(xrayOut,'rect',2.8,'#000','#000',0.5),pts(xrayNear,'rect',2.8,'#000','#000',0.5),pts(xrayLine,'rect',2.8,'#000','#000',0.5)
],fMain(1,0.2,1,0.2),{from:[3.097,4.21],to:[1.93,4.04],color:ARROW});
makeChart({L:1342,T:686,R:1886,B:796},[0,5],[-0.19,0.19],p3XTicks,resTicks,true,fSerif,[
  ln(p3ResZero,'#ff4020',2),ln(p3ResUp,'#ff5a3c',1.8),ln(p3ResLo,'#ff5a3c',1.8),
  pts(xrayRes,'rect',2.1,'#000','#000',0.5),pts(xrayResBand,'rect',2.1,'#000','#000',0.5)
],fRes(1,0.2));

// ---------------- text overlays ----------------
const stage=document.getElementById('stage');
function addText(html,cls,style){const d=document.createElement('div');d.className='t '+cls;d.style.cssText=style;d.innerHTML=html;stage.appendChild(d);}
const SIG='<span class="g">σ</span><sub>Δz/(1+z)</sub>:';
const IMED='i<sup>+</sup><sub style="margin-left:-0.45em">median</sub>:';
// panel 1
addText('4148 galaxies','ann','left:112px;top:272px');
addText('<span class="g">η</span>:','ann','left:112px;top:299px'); addText('0.7%','ann','left:164px;top:299px');
addText(SIG,'ann','left:112px;top:321px'); addText('0.0070','ann','left:212px;top:321px');
addText(IMED,'ann','left:112px;top:353px'); addText('21.6','ann','left:185px;top:353px');
// panel 2
const blk=[['15.5&lt;i+&lt;22.5','186 galaxies','0.0%','0.0094','21.7',[256,280,301,321,352],''],
           ['22.5&lt;i+&lt;24','116 galaxies','0.0%','0.0107','23.1',[397,421,443,462,494],' red']];
for(const b of blk){const T=b[5];
  addText(b[0],'ann'+b[6],`left:733px;top:${T[0]}px`); addText(b[1],'ann'+b[6],`left:733px;top:${T[1]}px`);
  addText('<span class="g">η</span>:','ann'+b[6],`left:733px;top:${T[2]}px`); addText(b[2],'ann'+b[6],`left:782px;top:${T[2]}px`);
  addText(SIG,'ann'+b[6],`left:733px;top:${T[3]}px`); addText(b[3],'ann'+b[6],`left:820px;top:${T[3]}px`);
  addText(IMED,'ann'+b[6],`left:733px;top:${T[4]}px`); addText(b[4],'ann'+b[6],`left:803px;top:${T[4]}px`);}
addText('24&lt;i+&lt;25','ann grn','left:1037px;top:514px'); addText('15 galaxies','ann grn','left:1037px;top:537px');
addText('<span class="g">η</span>:','ann grn','left:1037px;top:559px'); addText('20.0%','ann grn','left:1079px;top:559px');
addText(SIG,'ann grn','left:1037px;top:578px'); addText('0.0534','ann grn','left:1126px;top:578px');
addText(IMED,'ann grn','left:1037px;top:610px'); addText('24.2','ann grn','left:1110px;top:610px');
// panel 3
addText('396 galaxies','ser','left:1363px;top:264px');
addText('<span class="g">η</span>:','ser','left:1363px;top:290px'); addText('4.0%','ser','left:1417px;top:290px');
addText('<span class="g">σ</span><sub style="font-weight:normal">Δz/(1+z)</sub>:','ser','left:1363px;top:319px'); addText('0.014','ser','left:1466px;top:319px');
// axis titles
addText('Z<sub>p</sub>','rot','left:40px;top:430px;font-family:DejaVu Sans;font-weight:bold;font-size:26px');
addText('Δz<sub style="font-weight:normal">l</sub> / (1+z)','rot','left:36px;top:737px;font-family:DejaVu Sans;font-size:20px');
addText('Z<sub>s</sub>','ctr','left:355px;top:846px;font-family:DejaVu Sans;font-weight:bold;font-size:26px');
addText('z<sub>p</sub>','rot','left:650px;top:462px;font-family:DejaVu Sans;font-weight:bold;font-size:22px');
addText('Δz<sub style="font-weight:normal">l</sub> / (1+z)','rot','left:645px;top:732px;font-family:DejaVu Sans;font-size:20px');
addText('Z<sub>s</sub>','ctr','left:974px;top:836px;font-family:DejaVu Sans;font-weight:bold;font-size:22px');
addText('photo−z','rot','left:1290px;top:464px;font-family:DejaVu Serif;font-size:28px');
addText('Δz<sub style="font-weight:normal">l</sub> / (1+z)','rot','left:1276px;top:741px;font-family:DejaVu Serif;font-size:20px');
addText('spectro−z','ctr','left:1613px;top:848px;font-family:DejaVu Serif;font-size:29px');
</script>
</body></html>
